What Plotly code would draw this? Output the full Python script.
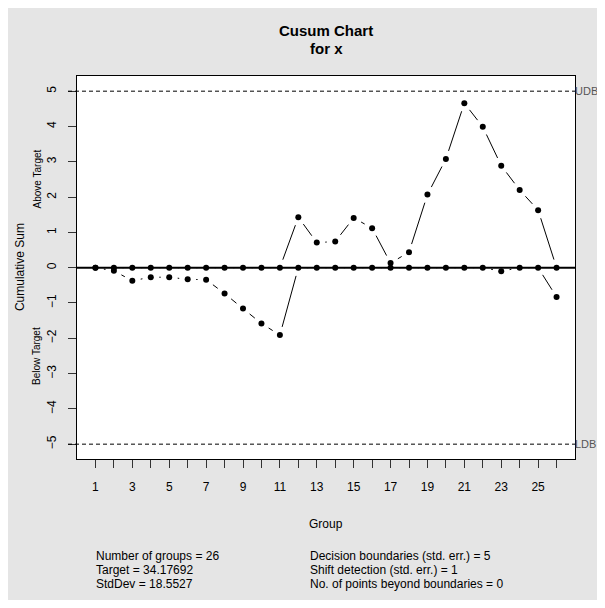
import math
import plotly.graph_objects as go

# ---- data ----
groups = list(range(1, 27))
cusum_above = [0, 0, 0, 0, 0, 0, 0, 0, 0, 0, 0, 1.43, 0.71, 0.74, 1.41, 1.12,
               0.13, 0.44, 2.07, 3.08, 4.66, 3.99, 2.89, 2.20, 1.63, 0]
cusum_below = [0, -0.09, -0.37, -0.27, -0.27, -0.33, -0.34, -0.73, -1.16, -1.58,
               -1.91, 0, 0, 0, 0, 0, 0, 0, 0, 0, 0, 0, -0.10, 0, 0, -0.83]
x_tick_vals = list(range(1, 27))
x_tick_text = [str(v) if v % 2 == 1 else "" for v in x_tick_vals]
y_tick_vals = [-5, -4, -3, -2, -1, 0, 1, 2, 3, 4, 5]
udb, ldb, center = 5, -5, 0
title_lines = ["Cusum Chart", "for x"]
stats_left = ["Number of groups = 26", "Target = 34.17692", "StdDev = 18.5527"]
stats_right = ["Decision boundaries (std. err.) = 5", "Shift detection (std. err.) = 1",
               "No. of points beyond boundaries = 0"]

# ---- layout constants ----
W, H = 597, 592
ML, MR, MT, MB = 69, 30, 68, 141
XR = [0, 27]
YR = [-5.42, 5.43]
FONT = "Liberation Sans, Arial, Helvetica, sans-serif"
GRAY_BG = "#e5e5e5"

PX = (W - ML - MR) / (XR[1] - XR[0])
PY = (H - MT - MB) / (YR[1] - YR[0])
PW = W - ML - MR
GAP = 8.5


def gapped(xs, ys):
    X, Y = [], []
    for i in range(len(xs) - 1):
        x0, x1, y0, y1 = xs[i], xs[i + 1], ys[i], ys[i + 1]
        dx, dy = (x1 - x0) * PX, (y1 - y0) * PY
        L = math.hypot(dx, dy)
        if L <= 2 * GAP:
            continue
        f = GAP / L
        X += [x0 + (x1 - x0) * f, x1 - (x1 - x0) * f, None]
        Y += [y0 + (y1 - y0) * f, y1 - (y1 - y0) * f, None]
    return X, Y


fig = go.Figure()

for series in (cusum_above, cusum_below):
    gx, gy = gapped(groups, series)
    fig.add_trace(go.Scatter(x=gx, y=gy, mode="lines",
                             line=dict(color="black", width=1),
                             hoverinfo="skip", showlegend=False))
    fig.add_trace(go.Scatter(x=groups, y=series, mode="markers",
                             marker=dict(color="black", size=6),
                             showlegend=False))

# center and decision lines
fig.add_shape(type="line", xref="paper", x0=0, x1=1, yref="y", y0=center, y1=center,
              line=dict(color="black", width=2))
for b in (udb, ldb):
    fig.add_shape(type="line", xref="paper", x0=-9 / PW, x1=1, yref="y", y0=b, y1=b,
                  line=dict(color="black", width=1, dash="4px,3px"))

PH = H - MT - MB


def py(px_below_top):
    return 1 - px_below_top / PH


def pxr(px_from_left):
    return px_from_left / PW


ann = []
ann.append(dict(text="<b>%s</b>" % title_lines[0], xref="paper", yref="paper",
                x=0.5, y=py(-45), showarrow=False, font=dict(size=15, color="black"),
                xanchor="center", yanchor="middle"))
ann.append(dict(text="<b>%s</b>" % title_lines[1], xref="paper", yref="paper",
                x=0.5, y=py(-28), showarrow=False, font=dict(size=15, color="black"),
                xanchor="center", yanchor="middle"))
ann.append(dict(text="Cumulative Sum", xref="paper", yref="paper", x=pxr(-57), y=0.501,
                textangle=-90, showarrow=False, font=dict(size=12, color="black"),
                xanchor="center", yanchor="middle"))
ann.append(dict(text="Above Target", xref="paper", yref="y", x=pxr(-40), y=2.5,
                textangle=-90, showarrow=False, font=dict(size=10, color="black"),
                xanchor="center", yanchor="middle"))
ann.append(dict(text="Below Target", xref="paper", yref="y", x=pxr(-40), y=-2.5,
                textangle=-90, showarrow=False, font=dict(size=10, color="black"),
                xanchor="center", yanchor="middle"))
ann.append(dict(text="Group", xref="paper", yref="paper", x=0.5, y=py(PH + 65),
                showarrow=False, font=dict(size=12, color="black"),
                xanchor="center", yanchor="middle"))
for lab, yv in (("UDB", udb), ("LDB", ldb)):
    ann.append(dict(text=lab, xref="paper", yref="y", x=1.0, y=yv, showarrow=False,
                    xshift=-1, borderpad=0, font=dict(size=11, color="#555555"),
                    xanchor="left", yanchor="middle"))
for i, (l, r) in enumerate(zip(stats_left, stats_right)):
    yy = py(PH + 97 + i * 14)
    ann.append(dict(text=l, xref="paper", yref="paper", x=pxr(17), y=yy, showarrow=False,
                    font=dict(size=12, color="black"), xanchor="left", yanchor="middle"))
    ann.append(dict(text=r, xref="paper", yref="paper", x=pxr(231), y=yy, showarrow=False,
                    font=dict(size=12, color="black"), xanchor="left", yanchor="middle"))

fig.update_layout(
    width=W, height=H, autosize=False,
    margin=dict(l=ML, r=MR, t=MT, b=MB, pad=0),
    paper_bgcolor=GRAY_BG, plot_bgcolor="white",
    font=dict(family=FONT, size=12, color="black"),
    annotations=ann, showlegend=False,
)
fig.update_xaxes(range=XR, tickmode="array", tickvals=x_tick_vals, ticktext=x_tick_text,
                 ticks="outside", ticklen=8, tickcolor="#333333", tickwidth=1,
                 showline=True, linecolor="black", linewidth=1, mirror=True,
                 showgrid=False, zeroline=False, tickfont=dict(size=12),
                 ticklabelstandoff=9)
fig.update_yaxes(range=YR, tickmode="array", tickvals=y_tick_vals,
                 ticks="outside", ticklen=8, tickcolor="#333333", tickwidth=1,
                 showline=True, linecolor="black", linewidth=1, mirror=True,
                 showgrid=False, zeroline=False, tickangle=-90, tickfont=dict(size=12),
                 ticklabelstandoff=7)

fig.write_html("out.html")
